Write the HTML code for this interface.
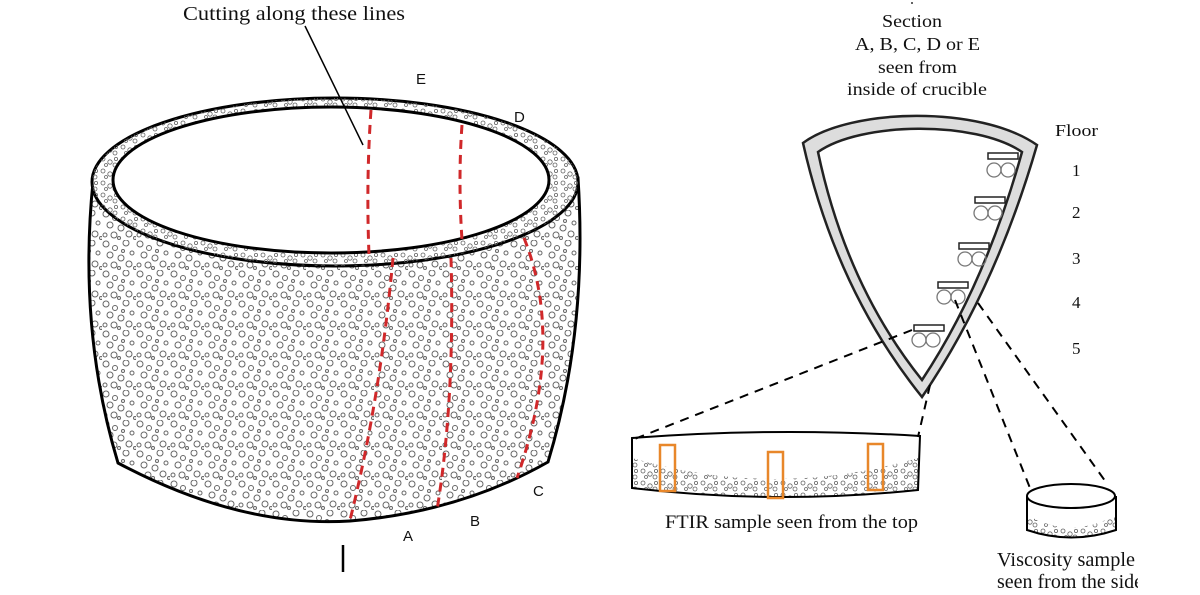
<!DOCTYPE html>
<html><head><meta charset="utf-8"><style>
html,body{margin:0;padding:0;background:#fff;}
svg{display:block;}
text{font-family:"Liberation Serif",serif;fill:#111;}
.s{font-family:"Liberation Sans",sans-serif;}
</style></head><body>
<svg width="1200" height="595" viewBox="0 0 1200 595" xmlns="http://www.w3.org/2000/svg">
<defs>
<pattern id="sp" width="34" height="30" patternUnits="userSpaceOnUse">
<g fill="none" stroke="#666" stroke-width="1">
<circle cx="4" cy="4" r="3"/><circle cx="13" cy="8" r="2.5"/><circle cx="24" cy="3" r="3"/>
<circle cx="30" cy="13" r="2"/><circle cx="8" cy="15" r="3"/><circle cx="19" cy="18" r="3"/>
<circle cx="3" cy="25" r="2"/><circle cx="12" cy="25" r="3"/><circle cx="27" cy="24" r="3"/>
<circle cx="21" cy="11" r="1.5"/><circle cx="33" cy="28" r="1.5"/><circle cx="17" cy="28" r="1.5"/>
</g>
</pattern>
<pattern id="sp2" width="20" height="12" patternUnits="userSpaceOnUse">
<g fill="none" stroke="#666" stroke-width="0.8">
<circle cx="3" cy="3" r="2"/><circle cx="10" cy="6" r="2.2"/><circle cx="16" cy="3" r="1.6"/><circle cx="6" cy="9" r="1.5"/><circle cx="15" cy="9" r="2"/>
</g>
</pattern>
</defs>

<path d="M93,182 Q78,330 118,463 Q240,528 350,521 Q460,512 548,462 Q588,330 578,178 Z" fill="url(#sp)" stroke="#000" stroke-width="3"/>
<ellipse cx="335" cy="182" rx="243" ry="84" fill="#fff" stroke="#000" stroke-width="3"/>
<ellipse cx="335" cy="182" rx="243" ry="84" fill="url(#sp2)"/>
<ellipse cx="331" cy="180" rx="218" ry="73" fill="#fff" stroke="#000" stroke-width="3"/>

<g fill="none" stroke="#d0282a" stroke-width="3" stroke-dasharray="9,6">
<path d="M371,110 Q366,180 369,255"/>
<path d="M462,125 Q458,180 462,240"/>
<path d="M393,258 Q380,400 350,520"/>
<path d="M451,258 Q455,400 437,510"/>
<path d="M524,238 Q565,340 517,478"/>
</g>

<line x1="305" y1="26" x2="363" y2="145" stroke="#000" stroke-width="1.5"/>
<text x="183" y="20" font-size="20" textLength="222" lengthAdjust="spacingAndGlyphs">Cutting along these lines</text>
<text class="s" x="416" y="84" font-size="15">E</text>
<text class="s" x="514" y="122" font-size="15">D</text>
<text class="s" x="403" y="541" font-size="15">A</text>
<text class="s" x="470" y="526" font-size="15">B</text>
<text class="s" x="533" y="496" font-size="15">C</text>
<line x1="343" y1="545" x2="343" y2="572" stroke="#000" stroke-width="2.5"/>

<circle cx="912" cy="3" r="1" fill="#333"/>
<text x="882" y="27" font-size="18" textLength="60" lengthAdjust="spacingAndGlyphs">Section</text>
<text x="855" y="50" font-size="18" textLength="125" lengthAdjust="spacingAndGlyphs">A, B, C, D or E</text>
<text x="878" y="73" font-size="18" textLength="79" lengthAdjust="spacingAndGlyphs">seen from</text>
<text x="847" y="95" font-size="18" textLength="140" lengthAdjust="spacingAndGlyphs">inside of crucible</text>
<text x="1055" y="136" font-size="17" textLength="43" lengthAdjust="spacingAndGlyphs">Floor</text>
<text x="1072" y="176" font-size="17">1</text>
<text x="1072" y="218" font-size="17">2</text>
<text x="1072" y="264" font-size="17">3</text>
<text x="1072" y="308" font-size="17">4</text>
<text x="1072" y="354" font-size="17">5</text>

<path d="M803,143 C850,108 980,105 1037,145 Q995,290 922,397 Q836,290 803,143 Z" fill="#ddd" stroke="#222" stroke-width="2.5"/>
<path d="M818,152 C860,122 975,120 1022,152 Q985,285 922,380 Q846,285 818,152 Z" fill="#fff" stroke="#222" stroke-width="2.5"/>
<g fill="#fff" stroke="#222" stroke-width="1.5">
<rect x="988" y="153" width="30" height="6"/>
<rect x="975" y="197" width="30" height="6"/>
<rect x="959" y="243" width="30" height="6"/>
<rect x="938" y="282" width="30" height="6"/>
<rect x="914" y="325" width="30" height="6"/>
</g>
<g fill="none" stroke="#777" stroke-width="1.3">
<circle cx="994" cy="170" r="7"/><circle cx="1008" cy="170" r="7"/>
<circle cx="981" cy="213" r="7"/><circle cx="995" cy="213" r="7"/>
<circle cx="965" cy="259" r="7"/><circle cx="979" cy="259" r="7"/>
<circle cx="944" cy="297" r="7"/><circle cx="958" cy="297" r="7"/>
<circle cx="919" cy="340" r="7"/><circle cx="933" cy="340" r="7"/>
</g>

<g stroke="#000" stroke-width="2" stroke-dasharray="9,7" fill="none">
<line x1="912" y1="330" x2="632" y2="440"/>
<line x1="930" y1="385" x2="918" y2="437"/>
<line x1="955" y1="300" x2="1030" y2="488"/>
<line x1="978" y1="303" x2="1108" y2="485"/>
</g>

<path d="M632,458 Q775,500 918,458 L918,490 Q775,505 632,488 Z" fill="url(#sp2)"/>
<path d="M632,438 Q775,427 920,436 L918,490 Q775,505 632,488 Z" fill="none" stroke="#000" stroke-width="2"/>
<g fill="none" stroke="#e8872a" stroke-width="2.5">
<rect x="660" y="445" width="15" height="46"/>
<rect x="768" y="452" width="15" height="46"/>
<rect x="868" y="444" width="15" height="46"/>
</g>
<text x="665" y="528" font-size="19" textLength="253" lengthAdjust="spacingAndGlyphs">FTIR sample seen from the top</text>

<path d="M1027,515 Q1071,540 1116,515 L1116,530 Q1071,545 1027,530 Z" fill="url(#sp2)"/>
<ellipse cx="1071" cy="496" rx="44" ry="12" fill="none" stroke="#000" stroke-width="2"/>
<path d="M1027,496 L1027,530 Q1071,545 1116,530 L1116,496" fill="none" stroke="#000" stroke-width="2"/>
<text x="997" y="566" font-size="20" textLength="138" lengthAdjust="spacingAndGlyphs">Viscosity sample</text>
<text x="997" y="588" font-size="20" textLength="146" lengthAdjust="spacingAndGlyphs">seen from the side</text>
<rect x="1138" y="570" width="62" height="25" fill="#fff"/>
</svg>
</body></html>
